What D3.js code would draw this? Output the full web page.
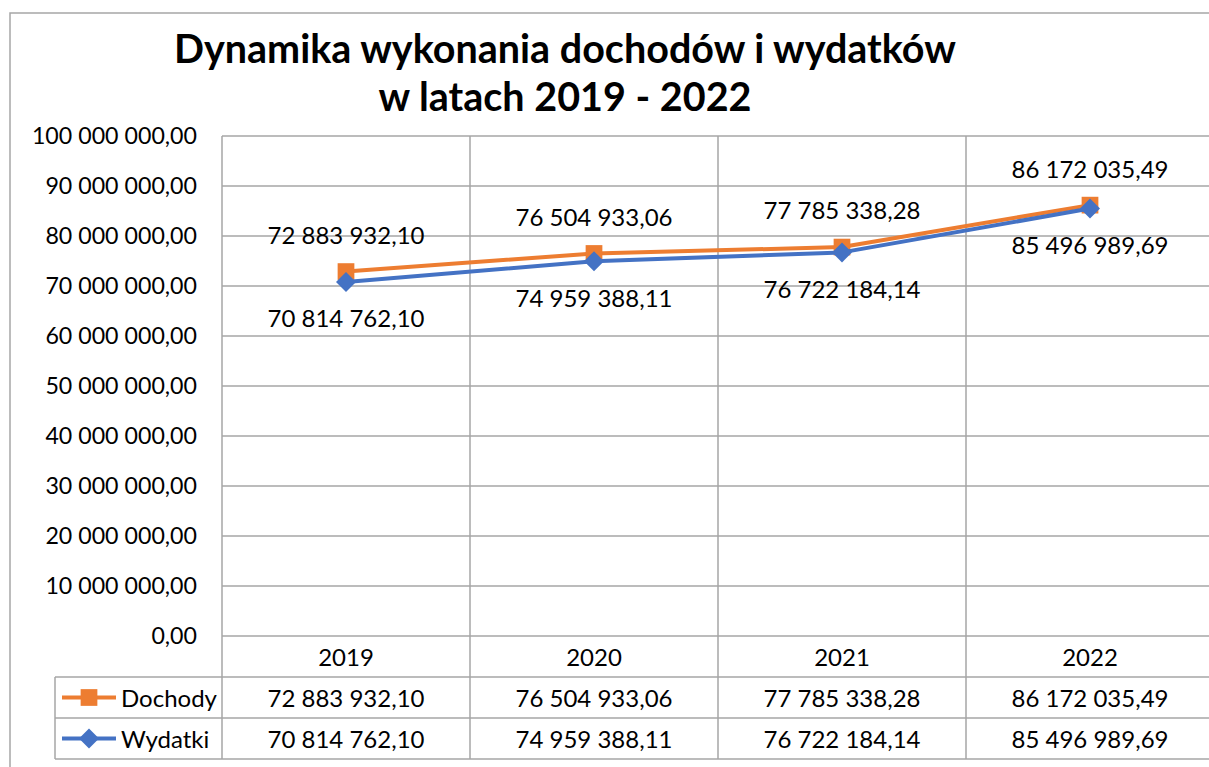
<!DOCTYPE html>
<html>
<head>
<meta charset="utf-8">
<script src="https://cdn.jsdelivr.net/npm/d3@7"></script>
<style>
  body { margin: 0; background: #fff; }
  svg { display: block; font-family: Lato, "Open Sans", sans-serif; }
</style>
</head>
<body>
<svg width="1209" height="767"></svg>
<script>
var years = ['2019', '2020', '2021', '2022'];
var dochody = [72883932.10, 76504933.06, 77785338.28, 86172035.49];
var wydatki = [70814762.10, 74959388.11, 76722184.14, 85496989.69];
var yTicks = [0, 10e6, 20e6, 30e6, 40e6, 50e6, 60e6, 70e6, 80e6, 90e6, 100e6];
var titleLines = ['Dynamika wykonania dochodów i wydatków', 'w latach 2019 - 2022'];

var orange = '#ED7D31', blue = '#4472C4', grid = '#A6A6A6';

var pl = d3.formatLocale({decimal: ',', thousands: ' ', grouping: [3], currency: ['', ' zł']});
var fmt = pl.format(',.2f');

var svg = d3.select('svg');

// outer chart border (runs off the right/bottom edge like the screenshot)
svg.append('rect')
    .attr('x', 10).attr('y', 13)
    .attr('width', 1220).attr('height', 780)
    .attr('fill', 'none').attr('stroke', grid).attr('stroke-width', 1.5);

var x = d3.scaleBand().domain(years).range([222, 1214]);
var y = d3.scaleLinear().domain([0, 100e6]).range([636, 136]);

// title
svg.append('g').selectAll('text')
    .data(titleLines).enter().append('text')
    .attr('x', 565)
    .attr('y', function(d, i) { return 63 + i * 48; })
    .attr('text-anchor', 'middle')
    .attr('font-size', 39.5)
    .attr('font-weight', 'bold')
    .text(function(d) { return d; });

// horizontal gridlines
svg.append('g').selectAll('line')
    .data(yTicks).enter().append('line')
    .attr('x1', 222).attr('x2', 1214)
    .attr('y1', function(d) { return y(d); })
    .attr('y2', function(d) { return y(d); })
    .attr('stroke', grid).attr('stroke-width', 1.5);

// y axis labels
svg.append('g').selectAll('text')
    .data(yTicks).enter().append('text')
    .attr('x', 197)
    .attr('y', function(d) { return y(d); })
    .attr('dy', '0.35em')
    .attr('text-anchor', 'end')
    .attr('font-size', 23.2)
    .text(function(d) { return fmt(d); });

// data table rows
var rowTop = 636, rowH = 41;
var tableBottom = rowTop + rowH * 3;

// vertical lines: category boundaries run through the whole table
var bounds = years.map(function(d) { return x(d); });
svg.append('g').selectAll('line')
    .data(bounds).enter().append('line')
    .attr('x1', function(d) { return d; })
    .attr('x2', function(d) { return d; })
    .attr('y1', 136).attr('y2', tableBottom)
    .attr('stroke', grid).attr('stroke-width', 1.5);

// table horizontal lines
svg.append('g').selectAll('line')
    .data([rowTop + rowH, rowTop + rowH * 2, tableBottom]).enter().append('line')
    .attr('x1', 55).attr('x2', 1214)
    .attr('y1', function(d) { return d; })
    .attr('y2', function(d) { return d; })
    .attr('stroke', grid).attr('stroke-width', 1.5);
svg.append('line')
    .attr('x1', 55).attr('x2', 55)
    .attr('y1', rowTop + rowH).attr('y2', tableBottom)
    .attr('stroke', grid).attr('stroke-width', 1.5);

// year labels
svg.append('g').selectAll('text')
    .data(years).enter().append('text')
    .attr('x', function(d) { return x(d) + x.bandwidth() / 2; })
    .attr('y', rowTop + rowH / 2 + 1)
    .attr('dy', '0.35em')
    .attr('text-anchor', 'middle')
    .attr('font-size', 24)
    .text(function(d) { return d; });

var series = [
    {name: 'Dochody', values: dochody, color: orange, marker: 'square', labelDy: -36},
    {name: 'Wydatki', values: wydatki, color: blue, marker: 'diamond', labelDy: 37}
];

var line = d3.line()
    .x(function(d, i) { return x(years[i]) + x.bandwidth() / 2; })
    .y(function(d) { return y(d); });

function markerPath(type) {
    return type === 'square'
        ? d3.symbol().type(d3.symbolSquare).size(280)()
        : 'M0,-10L10,0L0,10L-10,0Z';
}

series.forEach(function(s, si) {
    var g = svg.append('g');
    g.append('path')
        .attr('d', line(s.values))
        .attr('fill', 'none')
        .attr('stroke', s.color)
        .attr('stroke-width', 4)
        .attr('stroke-linejoin', 'round');

    g.selectAll('path.marker')
        .data(s.values).enter().append('path')
        .attr('class', 'marker')
        .attr('d', markerPath(s.marker))
        .attr('fill', s.color)
        .attr('transform', function(d, i) {
            return 'translate(' + [x(years[i]) + x.bandwidth() / 2, y(d)] + ')';
        });

    // point labels
    g.selectAll('text.lbl')
        .data(s.values).enter().append('text')
        .attr('class', 'lbl')
        .attr('x', function(d, i) { return x(years[i]) + x.bandwidth() / 2; })
        .attr('y', function(d) { return y(d) + s.labelDy; })
        .attr('dy', '0.35em')
        .attr('text-anchor', 'middle')
        .attr('font-size', 24)
        .text(function(d) { return fmt(d); });

    // table row
    var rowY = rowTop + rowH * (si + 1) + rowH / 2;
    g.selectAll('text.cell')
        .data(s.values).enter().append('text')
        .attr('class', 'cell')
        .attr('x', function(d, i) { return x(years[i]) + x.bandwidth() / 2; })
        .attr('y', rowY + 1)
        .attr('dy', '0.35em')
        .attr('text-anchor', 'middle')
        .attr('font-size', 24)
        .text(function(d) { return fmt(d); });

    // legend key in the table
    g.append('line')
        .attr('x1', 62).attr('x2', 116)
        .attr('y1', rowY).attr('y2', rowY)
        .attr('stroke', s.color).attr('stroke-width', 4);
    g.append('path')
        .attr('d', markerPath(s.marker))
        .attr('fill', s.color)
        .attr('transform', 'translate(' + [89, rowY] + ')');
    g.append('text')
        .attr('x', 121).attr('y', rowY + 1)
        .attr('dy', '0.35em')
        .attr('font-size', 24)
        .text(s.name);
});
</script>
</body>
</html>
